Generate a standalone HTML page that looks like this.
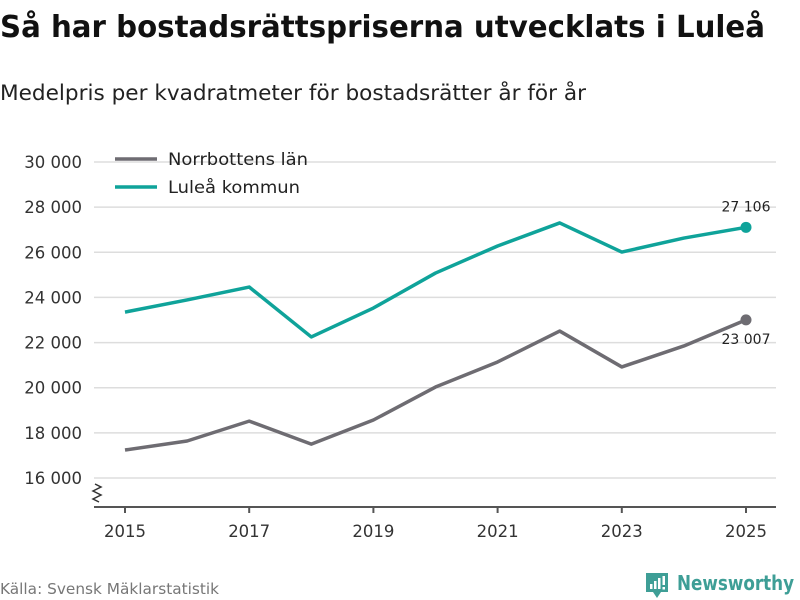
<!DOCTYPE html>
<html><head><meta charset="utf-8"><style>
body{margin:0;background:#fff}
svg{font-family:"DejaVu Sans","Liberation Sans",sans-serif;display:block}
</style></head><body>
<svg id="chart" width="800" height="600" viewBox="0 0 800 600">
<text x="0" y="37" font-size="30" font-weight="bold" fill="#111" textLength="765" lengthAdjust="spacingAndGlyphs">Så har bostadsrättspriserna utvecklats i Luleå</text>
<text x="0" y="100" font-size="21" fill="#222" textLength="586" lengthAdjust="spacingAndGlyphs">Medelpris per kvadratmeter för bostadsrätter år för år</text>
<g id="grid"></g>
<g id="series"></g>
<g>
<line x1="115" y1="159" x2="157" y2="159" stroke="#6e6c72" stroke-width="3.5"/>
<text x="168" y="165" font-size="16.5" fill="#222" textLength="140" lengthAdjust="spacingAndGlyphs">Norrbottens län</text>
<line x1="115" y1="187" x2="157" y2="187" stroke="#0fa39a" stroke-width="3.5"/>
<text x="168" y="193" font-size="16.5" fill="#222" textLength="132" lengthAdjust="spacingAndGlyphs">Luleå kommun</text>
</g>
<text x="0" y="594" font-size="15" fill="#777" textLength="219" lengthAdjust="spacingAndGlyphs">Källa: Svensk Mäklarstatistik</text>
<g>
<path d="M646 573 h22 v19 h-7 l-4 6 l-4 -6 h-7 z" fill="#3e9e96"/>
<rect x="650" y="584" width="2.5" height="5" fill="#fff"/><rect x="654" y="581" width="2.5" height="8" fill="#fff"/><rect x="658" y="578" width="2.5" height="11" fill="#fff"/><rect x="662.5" y="576" width="2.5" height="9" fill="#fff"/><rect x="662.5" y="587" width="2.5" height="2.5" fill="#fff"/>
<text x="677" y="590" font-size="20" font-weight="bold" fill="#3e9e96" textLength="117" lengthAdjust="spacingAndGlyphs">Newsworthy</text>
</g>
</svg>
<script>
const years=[2015,2016,2017,2018,2019,2020,2021,2022,2023,2024,2025];
const norrbotten=[17240,17640,18520,17500,18570,20030,21140,22510,20920,21850,23007];
const lulea=[23350,23890,24460,22250,23530,25080,26280,27300,26010,26630,27106];
const yTicks=[16000,18000,20000,22000,24000,26000,28000,30000];
const xTicks=[2015,2017,2019,2021,2023,2025];
const NS="http://www.w3.org/2000/svg";
const x=v=>125+(v-2015)*62.1;
const y=v=>478-(v-16000)*(316/14000);
const fmt=v=>String(v).replace(/\B(?=(\d{3})+(?!\d))/g," ");
function mk(tag,attrs,parent,txt){const e=document.createElementNS(NS,tag);for(const k in attrs)e.setAttribute(k,attrs[k]);if(txt!==undefined)e.textContent=txt;parent.appendChild(e);return e;}
const grid=document.getElementById('grid'),ser=document.getElementById('series');
yTicks.forEach(t=>{
 const l=mk('line',{x1:94,x2:776,y1:y(t),y2:y(t),stroke:'#ddd','stroke-width':1.5},grid);
 
 
 const tx=mk('text',{x:82,y:y(t)+6,'font-size':16.5,fill:'#333','text-anchor':'end'},grid,fmt(t));
 
 
});
const ax=mk('line',{x1:94,x2:776,y1:507,y2:507,stroke:'#555','stroke-width':2},grid);


const br=mk('path',{d:'M95 484 l6 3 l-8 4 l8 4 l-8 4 l6 3',fill:'none',stroke:'#333','stroke-width':1.5},grid);


xTicks.forEach(t=>{
 const l=mk('line',{x1:x(t),x2:x(t),y1:507,y2:513,stroke:'#555','stroke-width':2},grid);
 
 
 const tx=mk('text',{x:x(t),y:537,'font-size':16.5,fill:'#333','text-anchor':'middle'},grid,String(t));
 
 
});
function line(vals,color,name,labY){
 const p=mk('polyline',{points:vals.map((v,i)=>x(years[i])+','+y(v)).join(' '),fill:'none',stroke:color,'stroke-width':3.5,'stroke-linejoin':'round'},ser);
 
 
 const n=vals.length-1;
 const c=mk('circle',{cx:x(years[n]),cy:y(vals[n]),r:5.5,fill:color},ser);
 
 
 const t=mk('text',{x:x(years[n]),y:y(vals[n])+labY,'font-size':14,fill:'#222','text-anchor':'middle'},ser,fmt(vals[n]));
 
 
}
line(norrbotten,'#6e6c72','norrbotten',24);
line(lulea,'#0fa39a','lulea',-16);
</script>
</body></html>
